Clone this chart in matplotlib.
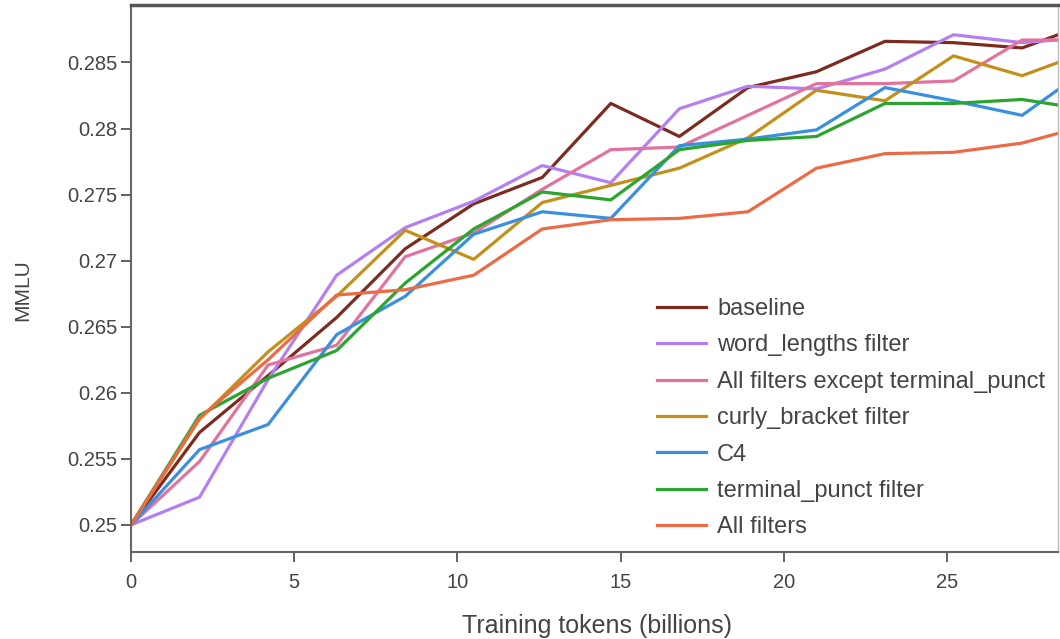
import numpy as np
import matplotlib
matplotlib.use('Agg')
import matplotlib.pyplot as plt
from matplotlib.ticker import FuncFormatter

plt.rcParams['font.family'] = ['Liberation Sans', 'DejaVu Sans']

# training tokens (billions) at each eval step
tokens = [0, 2.1, 4.2, 6.3, 8.4, 10.5, 12.6, 14.7, 16.8, 18.9, 21.0, 23.1, 25.2, 27.3, 29.4]

baseline = [0.25, 0.2570, 0.2613, 0.2657, 0.2709, 0.2743, 0.2763, 0.2819, 0.2794,
            0.2831, 0.2843, 0.2866, 0.2865, 0.2861, 0.2880]
word_lengths = [0.25, 0.2521, 0.2610, 0.2689, 0.2725, 0.2745, 0.2772, 0.2759, 0.2815,
                0.2832, 0.2830, 0.2845, 0.2871, 0.2865, 0.2869]
all_but_punct = [0.25, 0.2548, 0.2621, 0.2636, 0.2703, 0.2721, 0.2754, 0.2784, 0.2786,
                 0.2810, 0.2834, 0.2834, 0.2836, 0.2867, 0.2867]
curly_bracket = [0.25, 0.2580, 0.2631, 0.2673, 0.2723, 0.2701, 0.2744, 0.2757, 0.2770,
                 0.2793, 0.2829, 0.2821, 0.2855, 0.2840, 0.2859]
c4 = [0.25, 0.2557, 0.2576, 0.2644, 0.2673, 0.2720, 0.2737, 0.2732, 0.2787,
      0.2792, 0.2799, 0.2831, 0.2821, 0.2810, 0.2847]
terminal_punct = [0.25, 0.2583, 0.2611, 0.2632, 0.2683, 0.2724, 0.2752, 0.2746, 0.2784,
                  0.2791, 0.2794, 0.2819, 0.2819, 0.2822, 0.2814]
all_filters = [0.25, 0.2581, 0.2625, 0.2674, 0.2678, 0.2689, 0.2724, 0.2731, 0.2732,
               0.2737, 0.2770, 0.2781, 0.2782, 0.2789, 0.2803]

series = [
    ('baseline', baseline, '#7d2b1f'),
    ('word_lengths filter', word_lengths, '#b480f0'),
    ('All filters except terminal_punct', all_but_punct, '#e2739f'),
    ('curly_bracket filter', curly_bracket, '#c3911b'),
    ('C4', c4, '#3a8fdf'),
    ('terminal_punct filter', terminal_punct, '#2ba52f'),
    ('All filters', all_filters, '#ec6b46'),
]

fig = plt.figure(figsize=(10.6, 6.39), dpi=100)
ax = fig.add_axes([131 / 1060, 1 - 552 / 639, (1058 - 131) / 1060, (552 - 5) / 639])

for name, vals, col in series:
    ax.plot(tokens, vals, color=col, lw=2.3, label=name)

ax.set_xlim(0, 28.4)
ax.set_ylim(0.24795, 0.28935)
ax.set_xticks([0, 5, 10, 15, 20, 25])
ax.set_yticks([0.25, 0.255, 0.26, 0.265, 0.27, 0.275, 0.28, 0.285])
ax.yaxis.set_major_formatter(FuncFormatter(lambda v, p: '%g' % round(v, 3)))

txt = '#444444'
ax.tick_params(direction='out', length=7, width=1.3, color='#555555',
               labelsize=14.5, labelcolor=txt, pad=3)
ax.tick_params(axis='x', pad=8)
for side in ['left', 'bottom']:
    ax.spines[side].set_color('#666666')
    ax.spines[side].set_linewidth(1.5)
ax.spines['top'].set_color('#555555')
ax.spines['top'].set_linewidth(2.5)
ax.spines['right'].set_color('#bbbbbb')
ax.spines['right'].set_linewidth(1.0)

ax.set_xlabel('Training tokens (billions)', fontsize=18, color=txt)
ax.xaxis.set_label_coords(0.5027, -0.114)
ax.set_ylabel('MMLU', fontsize=15, color=txt)
ax.yaxis.set_label_coords(-0.106, 0.479)

leg = ax.legend(loc='upper left', bbox_to_anchor=(657 / 1060, 1 - 298 / 639),
                bbox_transform=fig.transFigure, frameon=False, fontsize=17,
                handlelength=2.08, handletextpad=0.47, labelspacing=0.61,
                borderpad=0, borderaxespad=0)
for t in leg.get_texts():
    t.set_color(txt)

fig.savefig('out.png', dpi=100)
